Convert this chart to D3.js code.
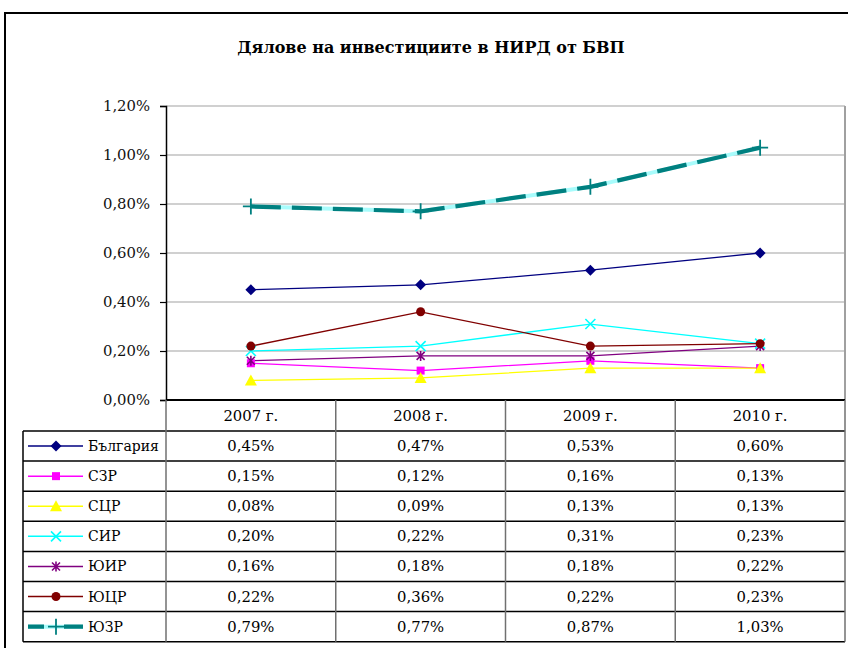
<!DOCTYPE html>
<html>
<head>
<meta charset="utf-8">
<script src="https://cdn.jsdelivr.net/npm/d3@7"></script>
<style>
  body { margin: 0; background: white; }
  svg { display: block; }
</style>
</head>
<body>
<svg id="chart" width="848" height="648"></svg>
<script>

// Data (values in % of GDP).
const years = ["2007 г.", "2008 г.", "2009 г.", "2010 г."];
const regions = ["България", "СЗР", "СЦР", "СИР", "ЮИР", "ЮЦР", "ЮЗР"];
const bulgaria = [0.45, 0.47, 0.53, 0.60];
const szr = [0.15, 0.12, 0.16, 0.13];
const scr = [0.08, 0.09, 0.13, 0.13];
const sir = [0.20, 0.22, 0.31, 0.23];
const yuir = [0.16, 0.18, 0.18, 0.22];
const yucr = [0.22, 0.36, 0.22, 0.23];
const yuzr = [0.79, 0.77, 0.87, 1.03];
const yTicks = [0, 0.2, 0.4, 0.6, 0.8, 1.0, 1.2];
const title = "Дялове на инвестициите в НИРД от БВП";

// Series styling, in the same order as the regions.
const seriesValues = [bulgaria, szr, scr, sir, yuir, yucr, yuzr];
const colors = ["#000080", "#ff00ff", "#ffff00", "#00ffff", "#800080", "#800000", "#008080"];
const markers = ["diamond", "square", "triangle", "x", "star", "circle", "plus"];

const series = regions.map((name, i) => ({
	name: name,
	values: seriesValues[i],
	color: colors[i],
	marker: markers[i]
}));

// The only serif face that resolves here.
const FONT = "DejaVu Serif";
const FS = 14.8;

// Bulgarian number format: comma as decimal separator.
const bg = d3.formatLocale({decimal: ",", thousands: " ", grouping: [3], currency: ["", ""]});
const pct = v => bg.format(".2f")(v) + "%";

const svg = d3.select("#chart")
  .attr("font-family", FONT);

// Plot area.
const plotLeft = 166, plotRight = 845, plotTop = 106, plotBottom = 400;
const headerH = 31, rowH = 30.1, tableLeft = 23;

const x = d3.scaleBand().domain(years).range([plotLeft, plotRight]);
const y = d3.scaleLinear().domain([0, 1.2]).range([plotBottom, plotTop]);

// Outer chart frame.
svg.append("rect")
  .attr("x", 5).attr("y", 13)
  .attr("width", 860).attr("height", 660)
  .attr("fill", "white")
  .attr("stroke", "black")
  .attr("stroke-width", 2);

// Title.
svg.append("text")
  .attr("x", 431).attr("y", 53)
  .attr("text-anchor", "middle")
  .attr("font-family", FONT)
  .attr("font-size", 16)
  .attr("font-weight", "bold")
  .text(title);

// Gridlines.
svg.append("g")
  .selectAll("line")
  .data(yTicks.slice(1))
  .join("line")
	.attr("x1", plotLeft).attr("x2", plotRight)
	.attr("y1", d => y(d)).attr("y2", d => y(d))
	.attr("stroke", "#c0c0c0")
	.attr("stroke-width", 1.5);

// Plot area border on the right.
svg.append("line")
  .attr("x1", plotRight).attr("x2", plotRight)
  .attr("y1", plotTop).attr("y2", plotBottom)
  .attr("stroke", "#a0a0a0")
  .attr("stroke-width", 2);

// Y axis.
const yAxis = d3.axisLeft(y)
  .tickValues(yTicks)
  .tickFormat(pct)
  .tickSize(6)
  .tickPadding(10);

const gy = svg.append("g")
  .attr("transform", `translate(${plotLeft},0)`)
  .call(yAxis)
  .attr("font-family", FONT)
  .attr("font-size", FS);
gy.select(".domain").attr("stroke", "black").attr("stroke-width", 1.5);
gy.selectAll(".tick line").attr("stroke", "black").attr("stroke-width", 1.2);
gy.selectAll(".tick text").attr("fill", "#111");


// Marker drawing, centred on (0,0).
function drawMarker(g, type, color){
	if(type == "diamond"){
		g.append("path").attr("d", "M0,-5.5L5.5,0L0,5.5L-5.5,0Z").attr("fill", color);
	} else if(type == "square"){
		g.append("rect").attr("x", -4).attr("y", -4).attr("width", 8).attr("height", 8).attr("fill", color);
	} else if(type == "triangle"){
		g.append("path").attr("d", "M0,-6L6,5L-6,5Z").attr("fill", color);
	} else if(type == "x"){
		g.append("path").attr("d", "M-5,-5L5,5M-5,5L5,-5").attr("stroke", color).attr("stroke-width", 1.6);
	} else if(type == "star"){
		g.append("path").attr("d", "M-4,-4L4,4M-4,4L4,-4M0,-5L0,5").attr("stroke", color).attr("stroke-width", 1.6);
	} else if(type == "circle"){
		g.append("circle").attr("r", 4.5).attr("fill", color);
	} else if(type == "plus"){
		g.append("path").attr("d", "M-8,0L8,0M0,-8L0,8").attr("stroke", color).attr("stroke-width", 1.8);
	} // if
} // drawMarker


// Series lines.
const line = d3.line()
  .x((d, i) => x(years[i]) + x.bandwidth() / 2)
  .y(d => y(d));

const plot = svg.append("g").attr("class", "data");

series.forEach(s => {
	if(s.marker == "plus"){
		// Thick teal dashes on a light cyan base.
		plot.append("path")
		  .attr("d", line(s.values))
		  .attr("fill", "none")
		  .attr("stroke", "#a8fcfc")
		  .attr("stroke-width", 4);
		plot.append("path")
		  .attr("d", line(s.values))
		  .attr("fill", "none")
		  .attr("stroke", s.color)
		  .attr("stroke-width", 4.2)
		  .attr("stroke-dasharray", "30,11");
	} else {
		plot.append("path")
		  .attr("d", line(s.values))
		  .attr("fill", "none")
		  .attr("stroke", s.color)
		  .attr("stroke-width", 1.3);
	} // if
}); // forEach

series.forEach(s => {
	s.values.forEach((v, i) => {
		let g = plot.append("g")
		  .attr("transform", `translate(${x(years[i]) + x.bandwidth() / 2},${y(v)})`);
		drawMarker(g, s.marker, s.color);
	}); // forEach
}); // forEach


// Data table below the plot.
const table = svg.append("g").attr("class", "table")
  .attr("font-family", FONT)
  .attr("font-size", FS);
const tableBottom = plotBottom + headerH + rowH * regions.length;

// Header texts.
table.selectAll("text.year")
  .data(years)
  .join("text")
	.attr("class", "year")
	.attr("x", d => x(d) + x.bandwidth() / 2)
	.attr("y", plotBottom + headerH / 2 + 5)
	.attr("text-anchor", "middle")
	.text(d => d);

// Horizontal row lines.
const rowLines = d3.range(regions.length + 1).map(i => plotBottom + headerH + i * rowH);
table.selectAll("line.row")
  .data(rowLines)
  .join("line")
	.attr("class", "row")
	.attr("x1", tableLeft).attr("x2", plotRight)
	.attr("y1", d => d).attr("y2", d => d)
	.attr("stroke", "black")
	.attr("stroke-width", 1.5);

// Header top line (axis).
table.append("line")
  .attr("x1", plotLeft).attr("x2", plotRight)
  .attr("y1", plotBottom).attr("y2", plotBottom)
  .attr("stroke", "black")
  .attr("stroke-width", 2);

// Vertical column lines.
const colLines = years.map(d => x(d)).concat([plotRight]);
table.selectAll("line.col")
  .data(colLines)
  .join("line")
	.attr("class", "col")
	.attr("x1", d => d).attr("x2", d => d)
	.attr("y1", plotBottom).attr("y2", tableBottom)
	.attr("stroke", "#707070")
	.attr("stroke-width", 1.5);

table.append("line")
  .attr("x1", tableLeft).attr("x2", tableLeft)
  .attr("y1", plotBottom + headerH).attr("y2", tableBottom)
  .attr("stroke", "black")
  .attr("stroke-width", 1.5);

// Rows: legend key and values.
series.forEach((s, r) => {
	let cy = plotBottom + headerH + r * rowH + rowH / 2;

	if(s.marker == "plus"){
		table.append("line")
		  .attr("x1", 28).attr("x2", 83).attr("y1", cy).attr("y2", cy)
		  .attr("stroke", "#a8fcfc").attr("stroke-width", 4);
		table.append("line")
		  .attr("x1", 28).attr("x2", 83).attr("y1", cy).attr("y2", cy)
		  .attr("stroke", s.color).attr("stroke-width", 4.2)
		  .attr("stroke-dasharray", "16,20,20");
	} else {
		table.append("line")
		  .attr("x1", 28).attr("x2", 83).attr("y1", cy).attr("y2", cy)
		  .attr("stroke", s.color).attr("stroke-width", 1.5);
	} // if

	let g = table.append("g").attr("transform", `translate(56,${cy})`);
	drawMarker(g, s.marker, s.color);

	// Legend label, a touch smaller so "България" stays inside its cell.
	table.append("text")
	  .attr("x", 88).attr("y", cy + 5)
	  .attr("font-size", 14)
	  .text(s.name);

	table.selectAll(null)
	  .data(s.values)
	  .join("text")
		.attr("x", (d, i) => x(years[i]) + x.bandwidth() / 2)
		.attr("y", cy + 5)
		.attr("text-anchor", "middle")
		.text(d => pct(d));
}); // forEach

</script>
</body>
</html>
